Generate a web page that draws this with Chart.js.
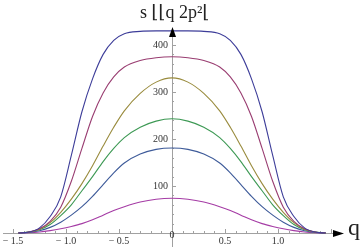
<!DOCTYPE html>
<html>
<head>
  <script src="https://cdn.jsdelivr.net/npm/chart.js@4/dist/chart.umd.min.js"></script>
  <style>
    body { margin: 0; background: #fff; }
  </style>
</head>
<body>
  <canvas id="myChart" width="363" height="249"></canvas>
  <script type="text/javascript">
    // sample points along q (curves are symmetric)
    var qs = [-1.45, -1.35, -1.25, -1.15, -1.05, -0.95, -0.85, -0.75, -0.65, -0.55, -0.45, -0.3, -0.15, 0,
              0.15, 0.3, 0.45, 0.55, 0.65, 0.75, 0.85, 0.95, 1.05, 1.15, 1.25, 1.35, 1.45];

    // half-curves from q=-1.45 up to q=0, mirrored below
    var s1 = [0, 2, 11, 35, 77, 165, 258, 328, 380, 410, 424, 429, 430, 430];
    var s2 = [0, 2, 9, 25, 55, 110, 180, 248, 298, 332, 353, 367, 373, 375];
    var s3 = [0, 2, 8, 22, 44, 72, 105, 143, 185, 225, 260, 297, 321, 330];
    var s4 = [0, 2, 7, 18, 37, 60, 90, 120, 152, 180, 203, 225, 238, 243];
    var s5 = [0, 1, 5, 12, 23, 38, 56, 78, 103, 128, 149, 168, 178, 181];
    var s6 = [0, 0.5, 2, 5, 9, 14, 20, 28, 38, 48, 56, 66, 72, 74];

    var xTicks = [-1.5, -1.0, -0.5, 0, 0.5, 1.0];
    var xTickLabels = ['\u2212 1.5', '\u2212 1.0', '\u2212 0.5', '0', '0.5', '1.0'];
    var yTicks = [100, 200, 300, 400];

    var colors = ['rgb(61,61,153)', 'rgb(153,61,113)', 'rgb(153,139,61)',
                  'rgb(61,153,84)', 'rgb(61,90,153)', 'rgb(165,60,165)'];

    function mirror(half) {
      var full = half.slice();
      for (var i = half.length - 2; i >= 0; i--) full.push(half[i]);
      return full;
    }

    var datasets = [s1, s2, s3, s4, s5, s6].map(function(half, i) {
      var vals = mirror(half);
      return {
        data: qs.map(function(q, j) { return { x: q, y: vals[j] }; }),
        borderColor: colors[i],
        borderWidth: 1.1,
        pointRadius: 0,
        fill: false,
        cubicInterpolationMode: 'monotone'
      };
    });

    var serif = "'Times New Roman', 'Liberation Serif', 'DejaVu Serif', serif";

    // axes through the origin, with arrows, ticks and labels
    var axesPlugin = {
      id: 'axes',
      beforeDatasetsDraw: function(chart) {
        var ctx = chart.ctx;
        var xs = chart.scales.x, ys = chart.scales.y;
        var x0 = xs.getPixelForValue(0), y0 = ys.getPixelForValue(0);
        ctx.save();
        ctx.strokeStyle = '#a0a0a0';
        ctx.lineWidth = 1;
        ctx.beginPath();
        ctx.moveTo(3, y0 + 0.5);
        ctx.lineTo(338, y0 + 0.5);
        ctx.moveTo(x0 + 0.5, 247);
        ctx.lineTo(x0 + 0.5, 33);
        ctx.stroke();

        // x ticks
        ctx.beginPath();
        for (var q = -15; q <= 15; q++) {
          var px = Math.round(xs.getPixelForValue(q / 10)) + 0.5;
          var len = (q % 5 === 0) ? 4 : 2;
          ctx.moveTo(px, y0);
          ctx.lineTo(px, y0 - len);
        }
        // y ticks
        for (var v = 20; v <= 420; v += 20) {
          var py = Math.round(ys.getPixelForValue(v)) + 0.5;
          var l2 = (v % 100 === 0) ? 4 : 2;
          ctx.moveTo(x0, py);
          ctx.lineTo(x0 + l2, py);
        }
        ctx.stroke();

        ctx.fillStyle = '#333';
        ctx.font = '10px ' + serif;
        ctx.textAlign = 'center';
        ctx.textBaseline = 'middle';
        xTicks.forEach(function(t, i) {
          var tx = xs.getPixelForValue(t);
          var ty = y0 + 8;
          if (t === 0) { tx = x0; ty = y0 + 2; }
          ctx.fillText(xTickLabels[i], tx, ty);
        });
        ctx.textAlign = 'right';
        yTicks.forEach(function(t) {
          ctx.fillText(String(t), x0 - 4, ys.getPixelForValue(t));
        });
        ctx.restore();
      },
      afterDatasetsDraw: function(chart) {
        var ctx = chart.ctx;
        var xs = chart.scales.x, ys = chart.scales.y;
        var x0 = xs.getPixelForValue(0), y0 = ys.getPixelForValue(0);
        ctx.save();
        ctx.fillStyle = '#000';
        // x arrow
        ctx.beginPath();
        ctx.moveTo(344, y0 + 0.5);
        ctx.lineTo(333, y0 - 3);
        ctx.lineTo(333, y0 + 4);
        ctx.closePath();
        ctx.fill();
        // y arrow
        ctx.beginPath();
        ctx.moveTo(x0 + 0.5, 27);
        ctx.lineTo(x0 - 3, 37);
        ctx.lineTo(x0 + 4, 37);
        ctx.closePath();
        ctx.fill();

        ctx.fillStyle = '#222';
        ctx.font = '24px ' + serif;
        ctx.textAlign = 'left';
        ctx.textBaseline = 'middle';
        ctx.fillText('q', 348, y0 - 4);

        ctx.font = '18px ' + serif;
        ctx.textAlign = 'left';
        ctx.textBaseline = 'alphabetic';
        ctx.fillText('s \u230A\u230Aq 2p\u00B2\u230A', 140, 18);
        ctx.restore();
      }
    };

    var ctx = document.getElementById('myChart').getContext('2d');
    var chart = new Chart(ctx, {
      type: 'line',
      data: { datasets: datasets },
      options: {
        responsive: false,
        animation: false,
        layout: { padding: 0 },
        plugins: { legend: { display: false }, tooltip: { enabled: false } },
        scales: {
          x: { type: 'linear', display: false, min: -1.623, max: 1.802 },
          y: { type: 'linear', display: false, min: -34, max: 495.7 }
        }
      },
      plugins: [axesPlugin]
    });
  </script>
</body>
</html>
